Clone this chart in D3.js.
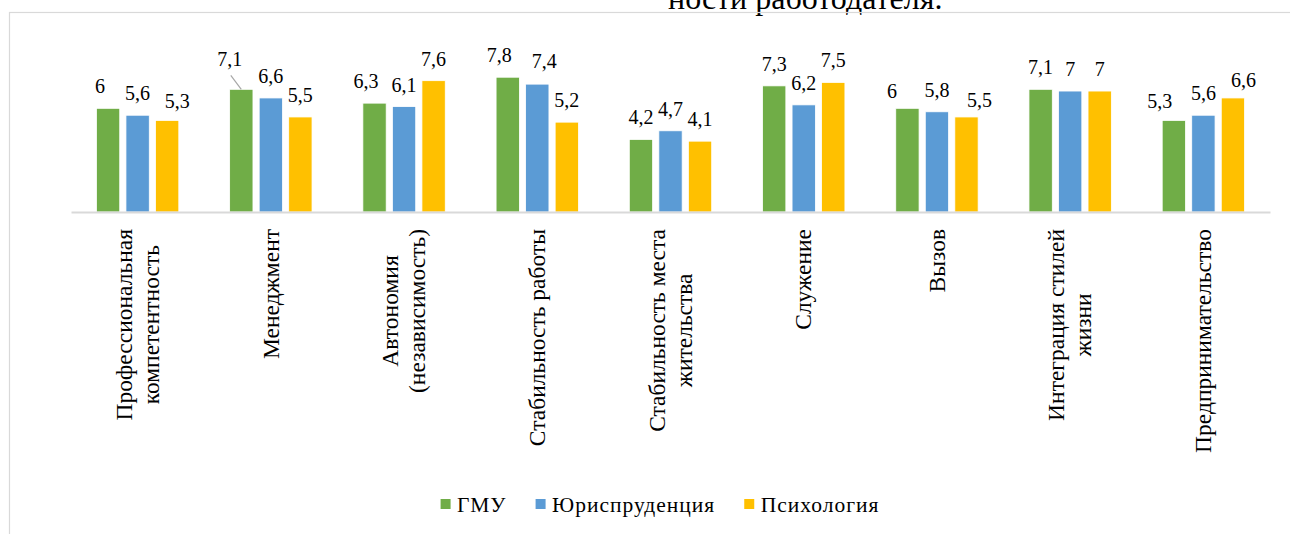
<!DOCTYPE html>
<html>
<head>
<meta charset="utf-8">
<script src="https://cdn.jsdelivr.net/npm/d3@7"></script>
<style>
  html, body { margin: 0; padding: 0; background: #ffffff; }
  svg { display: block; }
  svg, svg text { font-family: "Liberation Serif", "Times New Roman", serif !important; }
</style>
</head>
<body style="margin:0">
<svg id="chart" width="1290" height="534" font-family="Liberation Serif, Times New Roman, serif"></svg>
<script>
// ---- data ----
const categories = [
  "Профессиональная\nкомпетентность",
  "Менеджмент",
  "Автономия\n(независимость)",
  "Стабильность работы",
  "Стабильность места\nжительства",
  "Служение",
  "Вызов",
  "Интеграция стилей\nжизни",
  "Предпринимательство"
];
const seriesNames = ["ГМУ", "Юриспруденция", "Психология"];
const gmuValues = [6, 7.1, 6.3, 7.8, 4.2, 7.3, 6, 7.1, 5.3];
const lawValues = [5.6, 6.6, 6.1, 7.4, 4.7, 6.2, 5.8, 7, 5.6];
const psyValues = [5.3, 5.5, 7.6, 5.2, 4.1, 7.5, 5.5, 7, 6.6];
const titleFragment = "ности работодателя.";

// ---- styling / layout ----
const colors = ["#70AD47", "#5B9BD5", "#FFC000"];
const FONT = "Liberation Serif";
const W = 1290, H = 534;
const plot = { left: 71, right: 1270, baseline: 212, top: 39.2 };
// manual label adjustments (as in the source chart) : "cat-series": [dx, dy]
const labelNudges = {
  "0-0": [-8, 0], "0-2": [10, 3],
  "1-0": [-11.5, -8],
  "2-0": [-8.5, 0],
  "3-0": [-8.5, 0], "3-1": [7, -1],
  "6-0": [-15.5, 5], "6-2": [13, 5],
  "8-0": [-14, 3], "8-2": [10.5, 4]
};
const leaderFor = "1-0";

const seriesValues = [gmuValues, lawValues, psyValues];
const data = categories.map((c, i) => ({
  cat: c, idx: i,
  values: seriesNames.map((s, j) => ({ series: s, sIdx: j, value: seriesValues[j][i] }))
}));

const svg = d3.select("#chart");
svg.append("rect").attr("width", W).attr("height", H).attr("fill", "#fff");

function txt(sel, size) {
  return sel.append("text")
    .attr("font-family", FONT)
    .style("font-family", `"${FONT}"`)
    .style("font-size", size + "px").attr("fill", "#000");
}

// title fragment (cut off at top, as in the source)
txt(svg, 32).attr("x", 668).attr("y", 9).text(titleFragment);

// chart area border
svg.append("rect")
  .attr("x", 9.5).attr("y", 12.5).attr("width", 1300).attr("height", 540)
  .attr("fill", "none").attr("stroke", "#d9d9d9").attr("stroke-width", 1.2);

const x0 = d3.scaleBand().domain(d3.range(categories.length)).range([plot.left, plot.right]).paddingInner(0).paddingOuter(0);
const bw = x0.bandwidth();
const x1 = d3.scaleBand().domain(d3.range(seriesNames.length))
  .range([bw / 2 - 41.2, bw / 2 + 41.2]).paddingInner(0.21).paddingOuter(0);
const y = d3.scaleLinear().domain([0, 10]).range([plot.baseline, plot.top]);

// bars
const groups = svg.append("g").selectAll("g").data(data).join("g")
  .attr("transform", d => `translate(${x0(d.idx)},0)`);
groups.selectAll("rect").data(d => d.values).join("rect")
  .attr("x", d => x1(d.sIdx))
  .attr("width", x1.bandwidth())
  .attr("y", d => y(d.value))
  .attr("height", d => y(0) - y(d.value))
  .attr("fill", d => colors[d.sIdx])
  .attr("stroke", "#ffffff").attr("stroke-width", 0.8);

// axis (category baseline)
const xAxis = d3.axisBottom(x0).tickSize(0).tickFormat("");
const axisG = svg.append("g").attr("transform", `translate(0,${plot.baseline})`).call(xAxis);
axisG.attr("font-family", null);
axisG.select(".domain").attr("stroke", "#d9d9d9").attr("stroke-width", 1.8);

// data labels
const fmt = v => String(v).replace(".", ",");
groups.each(function (d) {
  const g = d3.select(this);
  d.values.forEach(v => {
    const key = d.idx + "-" + v.sIdx;
    const nudge = labelNudges[key] || [0, 0];
    const cx = x1(v.sIdx) + x1.bandwidth() / 2;
    const lx = cx + nudge[0];
    const ly = y(v.value) - 15 + nudge[1];
    if (key === leaderFor) {
      g.append("line")
        .attr("x1", lx + 1).attr("y1", ly + 9)
        .attr("x2", cx).attr("y2", y(v.value))
        .attr("stroke", "#a6a6a6").attr("stroke-width", 1.2);
    }
    txt(g, 20).attr("x", lx).attr("y", ly)
      .attr("text-anchor", "middle")
      .text(fmt(v.value));
  });
});

// category labels (rotated, wrapped, centred lines)
const CAT_FS = 23.5, LINE = 27, CAP = 0.66 * CAT_FS, LABEL_TOP = 229;
data.forEach(d => {
  const lines = d.cat.split("\n");
  const cx = x0(d.idx) + bw / 2;
  const g = svg.append("g");
  const texts = lines.map(l => txt(g, CAT_FS).attr("text-anchor", "middle").text(l));
  const maxLen = d3.max(texts, t => t.node().getComputedTextLength());
  const n = lines.length;
  texts.forEach((t, k) => {
    const off = (k - (n - 1) / 2) * LINE + CAP / 2;
    t.attr("transform", `translate(${cx + off},${LABEL_TOP + maxLen / 2}) rotate(-90)`);
  });
});

// legend
const LEG_FS = 21.5, SQ = 10, legendCenter = 660, legendY = 504, GAP = 29;
const legend = svg.append("g");
let cursor = 0;
seriesNames.forEach((s, j) => {
  const g = legend.append("g");
  g.append("rect").attr("x", 0).attr("y", legendY - SQ / 2).attr("width", SQ).attr("height", SQ).attr("fill", colors[j]);
  const t = txt(g, LEG_FS).style("letter-spacing", "1px")
    .attr("x", SQ + 6.5).attr("y", legendY + 7.5).text(s);
  const w = SQ + 6.5 + t.node().getComputedTextLength();
  g.attr("transform", `translate(${cursor},0)`);
  cursor += w + GAP;
});
const totalW = cursor - GAP;
legend.attr("transform", `translate(${legendCenter - totalW / 2},0)`);
</script>
</body>
</html>
